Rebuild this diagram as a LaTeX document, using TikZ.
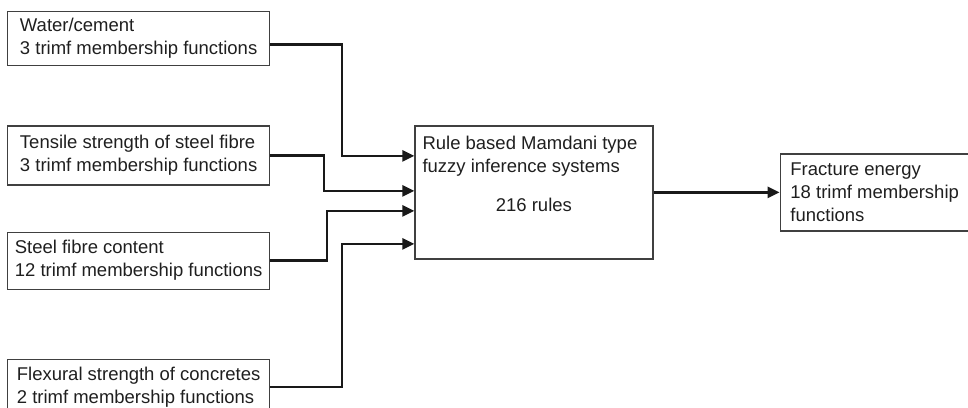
\documentclass[tikz,border=0pt]{standalone}
\usepackage{fontspec}
\setmainfont{Liberation Sans}
\usetikzlibrary{arrows.meta, positioning}

\begin{document}
\begin{tikzpicture}[every node/.style={font=\fontsize{13.15}{16.3}\selectfont, text=black!88},
    inbox/.style={draw=black!75, line width=0.9pt, minimum width=6.55cm, inner xsep=0.1cm, inner ysep=0pt, align=left},
    fisbox/.style={draw=black!75, line width=0.9pt, minimum width=5.95cm, minimum height=3.325cm, inner sep=0pt},
    outbox/.style={draw=black!75, line width=0.9pt, minimum width=4.725cm, minimum height=1.925cm, inner xsep=0.1cm, align=left},
    flow/.style={draw=black!90, line width=1.7pt, -{Triangle[length=0.3cm, width=0.28cm]}}]
    \useasboundingbox (0,0) rectangle (24.2,-10.2);
    % input variables
    \node[inbox, minimum height=1.35cm, anchor=north west] (water) at (0.175,-0.275) {Water/cement\\3 trimf membership functions};
    \node[inbox, minimum height=1.475cm, below=1.475cm of water.south west, anchor=north west] (tensile) {Tensile strength of steel fibre\\3 trimf membership functions};
    \node[inbox, minimum height=1.425cm, below=1.15cm of tensile.south west, anchor=north west] (steel) {Steel fibre content\\12 trimf membership functions};
    \node[inbox, minimum height=1.375cm, below=1.725cm of steel.south west, anchor=north west] (flexural) {Flexural strength of concretes\\2 trimf membership functions};
    % inference system
    \node[fisbox, right=3.6cm of tensile.north east, anchor=north west] (fis) {};
    \node[below right=0.255cm and 0.2cm of fis.north west, inner sep=0pt, align=left] (fistitle) {Rule based Mamdani type\\fuzzy inference systems};
    \node[below=0.4875cm of fis.center, anchor=base, inner sep=0pt] (rules) {216 rules};
    % output variable
    \node[outbox, right=3.15cm of fis] (energy) {Fracture energy\\18 trimf membership\\functions};
    \coordinate (in1) at ([yshift=0.9125cm]fis.west);
    \coordinate (in2) at ([yshift=0.0375cm]fis.west);
    \coordinate (in3) at ([yshift=-0.4625cm]fis.west);
    \coordinate (in4) at ([yshift=-1.2875cm]fis.west);
    \draw[flow] ([yshift=-0.15cm]water.east) -- ++(1.8,0) |- (in1);
    \draw[flow] (tensile.east) -- ++(1.35,0) |- (in2);
    \draw[flow] (steel.east) -- ++(1.425,0) |- (in3);
    \draw[flow] (flexural.east) -- ++(1.8,0) |- (in4);
    \draw[flow] (fis.east) -- (energy.west);
\end{tikzpicture}
\end{document}
